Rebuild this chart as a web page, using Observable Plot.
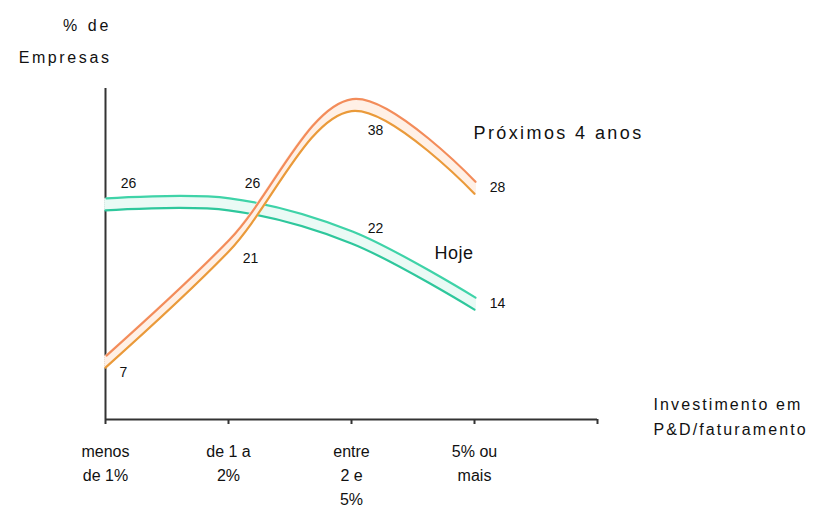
<!DOCTYPE html>
<html>
<head>
<meta charset="utf-8">
<script src="https://cdn.jsdelivr.net/npm/d3@7"></script>
<script src="https://cdn.jsdelivr.net/npm/@observablehq/plot@0.6"></script>
<style>
  html, body { margin: 0; padding: 0; background: #fff; }
  #chart svg { display: block; }
</style>
</head>
<body>
<div id="chart"></div>
<script>
// ---- data ----
const categories = ["menos\nde 1%", "de 1 a\n2%", "entre\n2 e\n5%", "5% ou\nmais"];
const hoje = [26, 26, 22, 14];
const proximos = [7, 21, 38, 28];
const seriesNames = ["Hoje", "Próximos 4 anos"];
const yTitle = "% de\nEmpresas";
const xTitle = "Investimento em\nP&D/faturamento";

// ---- layout / style constants ----
const FONT = "Arial, 'Liberation Sans', sans-serif";
const styles = [
  {values: hoje, name: seriesNames[0], top: "#3fd3a8", bottom: "#2ec79c", pale: "#eafaf5",
   offsets: [[23,-21],[24,-21],[24,-9],[23,0]], nameDx: -40, nameDy: -50, spacing: "0.5px"},
  {values: proximos, name: seriesNames[1], top: "#f38c5a", bottom: "#ea9a3a", pale: "#fff0e6",
   offsets: [[18,11],[22,13],[24,25],[23,0]], nameDx: -1, nameDy: -55, spacing: "2.4px"}
];
const spacingByText = {
  [seriesNames[0]]: "0.5px",
  [seriesNames[1]]: "2.4px",
  "% de": "3px",
  "Empresas": "2.6px",
  "Investimento em": "2.1px",
  "P&D/faturamento": "2.1px"
};

const marks = [];
// axes lines
marks.push(Plot.ruleX([0], {y1: 0, y2: 40, stroke: "#333", strokeWidth: 2}));
marks.push(Plot.ruleY([0], {x1: 0, x2: 4, stroke: "#333", strokeWidth: 2}));
marks.push(Plot.axisX({ticks: [0, 1, 2, 3, 4], tickSize: 5, tickFormat: () => "", label: null, stroke: "#333", strokeWidth: 2}));

// ribbons
for (const s of styles) {
  const data = s.values.map((v, i) => ({x: i, y: v}));
  for (let d = -5; d <= 5; d += 2) {
    marks.push(Plot.line(data, {x: "x", y: "y", curve: "catmull-rom", stroke: s.pale, strokeWidth: 3, dy: d}));
  }
  marks.push(Plot.line(data, {x: "x", y: "y", curve: "catmull-rom", stroke: s.top, strokeWidth: 2.2, dy: -6, dx: 1}));
  marks.push(Plot.line(data, {x: "x", y: "y", curve: "catmull-rom", stroke: s.bottom, strokeWidth: 2.2, dy: 6}));
}

// value labels
for (const s of styles) {
  s.values.forEach((v, i) => {
    marks.push(Plot.text([{x: i, y: v}], {x: "x", y: "y", text: d => String(d.y),
      dx: s.offsets[i][0], dy: s.offsets[i][1], fontSize: 14, fill: "#111", fontFamily: FONT}));
  });
  const last = s.values.length - 1;
  marks.push(Plot.text([{x: last, y: s.values[last]}], {x: "x", y: "y", text: () => s.name,
    dx: s.nameDx, dy: s.nameDy, textAnchor: "start", fontSize: 18, fill: "#111", fontFamily: FONT}));
}

// category labels
marks.push(Plot.text(categories, {x: (d, i) => i, y: () => 0, text: d => d, dy: 20, lineAnchor: "top",
  lineHeight: 1.5, fontSize: 16, fill: "#111", fontFamily: FONT}));

// axis titles
marks.push(Plot.text([yTitle], {frameAnchor: "top-left", text: d => d, textAnchor: "end", lineAnchor: "top",
  dx: 6, dy: -80, lineHeight: 2.0, fontSize: 16, fill: "#111", fontFamily: FONT}));
marks.push(Plot.text([xTitle], {frameAnchor: "bottom-right", text: d => d, textAnchor: "start", lineAnchor: "top",
  dx: 56, dy: -27, lineHeight: 1.55, fontSize: 16, fill: "#111", fontFamily: FONT}));

const chart = Plot.plot({
  width: 814,
  height: 511,
  marginLeft: 105,
  marginRight: 217,
  marginTop: 88,
  marginBottom: 92,
  style: {background: "#fff", fontFamily: FONT, overflow: "visible"},
  x: {type: "linear", domain: [0, 4], axis: null},
  y: {type: "linear", domain: [0, 40], axis: null},
  marks
});
// apply letter spacing to wide-set labels
d3.select(chart).selectAll("text, tspan").each(function() {
  const el = this;
  if (el.tagName === "text" && el.querySelector("tspan")) return;
  const t = el.textContent;
  if (spacingByText[t]) el.setAttribute("letter-spacing", spacingByText[t]);
});
document.getElementById("chart").appendChild(chart);
</script>
</body>
</html>
